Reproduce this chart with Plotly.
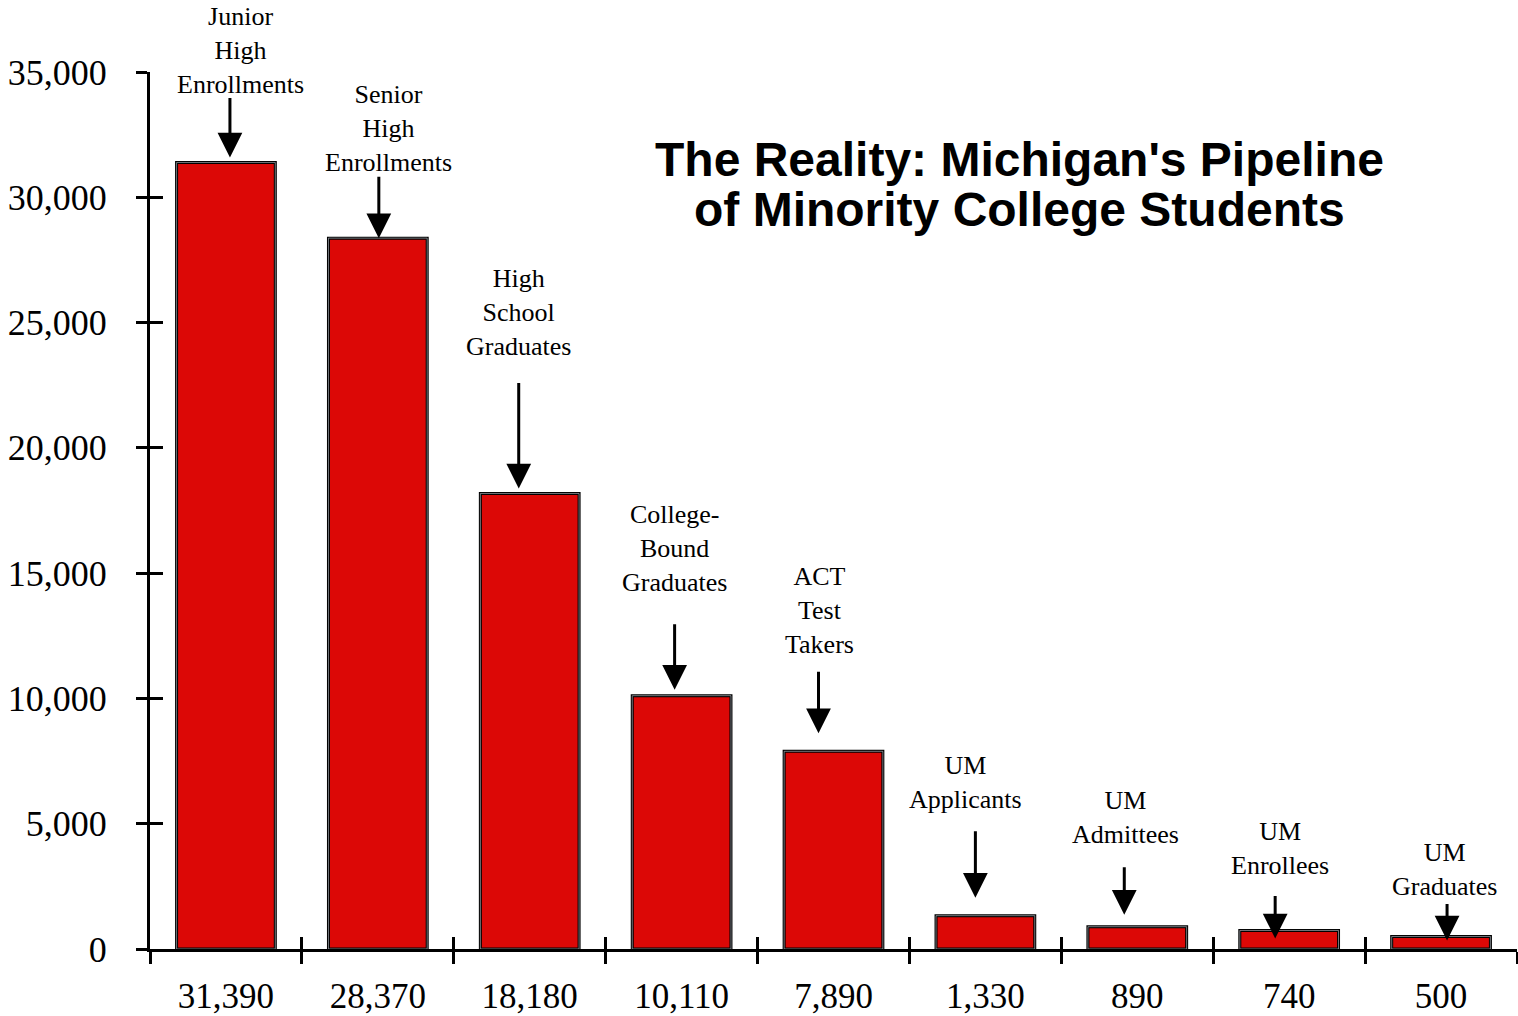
import plotly.graph_objects as go

# ---- data ----
stage_names = [
    "Junior<br>High<br>Enrollments",
    "Senior<br>High<br>Enrollments",
    "High<br>School<br>Graduates",
    "College-<br>Bound<br>Graduates",
    "ACT<br>Test<br>Takers",
    "UM<br>Applicants",
    "UM<br>Admittees",
    "UM<br>Enrollees",
    "UM<br>Graduates",
]
students = [31390, 28370, 18180, 10110, 7890, 1330, 890, 740, 500]
tick_labels = [f"{v:,}" for v in students]
y_ticks = [0, 5000, 10000, 15000, 20000, 25000, 30000, 35000]
title_lines = ["The Reality: Michigan's Pipeline", "of Minority College Students"]

# label/arrow styling offsets (pixels)
text_shift = [(15, 112), (11, 110), (-11, 181), (-7, 147), (-14, 141), (-20, 133), (-12, 109), (-9, 82), (3, 67)]
arrow_dx = [4, 1, -11, -7, -15, -10, -13, -14, 6]
arrow_len = [61, 63, 107, 67, 63, 68, 49, 44, 38]
arrow_gap = [5, 0, 5, 6, 18, 18, 12, -8, -4]

SERIF = "Liberation Serif, Times New Roman, serif"
SANS = "Liberation Sans, Arial, sans-serif"
RED = "#DC0806"

fig = go.Figure()
fig.add_trace(go.Bar(
    x=tick_labels, y=students, width=0.65,
    marker=dict(color=RED, line=dict(color="black", width=3)),
    hoverinfo="skip", showlegend=False,
))
# invisible twin trace to carry the inside-tick axes
fig.add_trace(go.Bar(
    x=tick_labels, y=students, xaxis="x2", yaxis="y2", width=0.65,
    marker=dict(color="rgba(0,0,0,0)"), hoverinfo="skip", showlegend=False,
))

annotations = []
for i, (name, v) in enumerate(zip(stage_names, students)):
    tdx, tdy = text_shift[i]
    annotations.append(dict(
        x=i, y=v, xref="x", yref="y", text=name, showarrow=False,
        xshift=tdx, yshift=tdy, yanchor="middle", xanchor="center",
        font=dict(family=SERIF, size=26, color="black"), align="center",
    ))
    annotations.append(dict(
        x=i, y=v, xref="x", yref="y", text="", showarrow=True,
        ax=0, ay=-arrow_len[i], xshift=arrow_dx[i], yshift=arrow_gap[i],
        arrowhead=2, arrowsize=1.65, arrowwidth=3, arrowcolor="black", standoff=0,
    ))

title_y = [0.8997, 0.8427]
for line, ty in zip(title_lines, title_y):
    annotations.append(dict(
        x=0.6357, y=ty, xref="paper", yref="paper", text=f"<b>{line}</b>",
        showarrow=False, xanchor="center", yanchor="middle",
        font=dict(family=SANS, size=48, color="black"),
    ))

fig.update_layout(
    width=1518, height=1016,
    margin=dict(l=150, r=1, t=72, b=67, autoexpand=False),
    paper_bgcolor="white", plot_bgcolor="white",
    bargap=0.35,
    annotations=annotations,
    xaxis=dict(
        type="category", range=[-0.5, 8.5], tickson="boundaries",
        ticks="outside", ticklen=12, tickwidth=3, tickcolor="black",
        showline=True, linewidth=3, linecolor="black",
        showgrid=False, zeroline=False, automargin=False,
        tickfont=dict(family=SERIF, size=35, color="black"),
        ticklabelstandoff=14,
    ),
    xaxis2=dict(
        type="category", range=[-0.5, 8.5], overlaying="x", anchor="y",
        side="bottom", tickson="boundaries", ticks="inside", ticklen=12,
        tickwidth=3, tickcolor="black", showticklabels=False,
        showline=False, showgrid=False, zeroline=False, automargin=False,
    ),
    yaxis=dict(
        range=[0, 35000], tickvals=y_ticks, tickformat=",",
        ticks="outside", ticklen=11, tickwidth=3, tickcolor="black",
        showline=True, linewidth=3, linecolor="black",
        showgrid=False, zeroline=False, automargin=False,
        tickfont=dict(family=SERIF, size=36, color="black"),
        ticklabelstandoff=22,
    ),
    yaxis2=dict(
        range=[0, 35000], tickvals=y_ticks, overlaying="y", anchor="x",
        side="left", ticks="inside", ticklen=13, tickwidth=3,
        tickcolor="black", showticklabels=False, showline=False,
        showgrid=False, zeroline=False, automargin=False,
    ),
)

# remove the default page margin so the figure fills the window exactly
fig.write_html(
    "out.html",
    config={"displayModeBar": False},
    post_script="document.body.style.margin='0';document.body.style.overflow='hidden';",
)
